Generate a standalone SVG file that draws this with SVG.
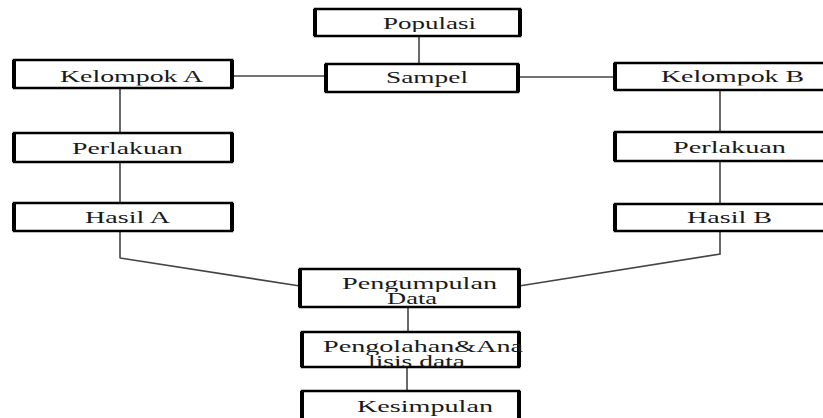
<svg xmlns="http://www.w3.org/2000/svg" width="823" height="418" viewBox="0 0 823 418">
<style>
.box rect{fill:#fff;stroke:#000;stroke-width:2.5}
.box path{stroke:#000;stroke-width:4;fill:none}
.t{font-family:"Liberation Serif","Times New Roman",serif;font-size:17px;fill:#1a1a1a}
.c{stroke:#444;stroke-width:1.6;fill:none}
</style>
<defs>
<clipPath id="cPop"><rect x="0" y="0" width="823" height="32"/></clipPath>
<clipPath id="cSam"><rect x="0" y="0" width="823" height="87"/></clipPath>
<clipPath id="cKel"><rect x="0" y="0" width="823" height="85.5"/></clipPath>
<clipPath id="cPeng"><rect x="0" y="0" width="823" height="292"/></clipPath>
<clipPath id="cOlah"><rect x="0" y="0" width="823" height="355"/></clipPath>
</defs>
<g id="connectors">
<path class="c" d="M419 36V64"/>
<path class="c" d="M232 76H326"/>
<path class="c" d="M518 77H615"/>
<path class="c" d="M120 88V133M120 162V203"/>
<path class="c" d="M120 231V258L300 286" stroke-linejoin="bevel"/>
<path class="c" d="M720 90V132M720 161V204"/>
<path class="c" d="M720 231V254L519 286"/>
<path class="c" d="M408 307V332"/>
<path class="c" d="M407 367V391"/>
</g>
<g id="populasi" class="box"><rect x="315" y="9" width="205" height="27"/><path d="M315 9V36M520 9V36"/><text class="t" x="383" y="29" textLength="93" lengthAdjust="spacingAndGlyphs" clip-path="url(#cPop)">Populasi</text></g>
<g id="sampel" class="box"><rect x="326" y="64" width="192" height="28"/><path d="M326 64V92M518 64V92"/><text class="t" x="386" y="83" textLength="82" lengthAdjust="spacingAndGlyphs" clip-path="url(#cSam)">Sampel</text></g>
<g id="kelompokA" class="box"><rect x="14" y="60" width="218" height="28"/><path d="M14 60V88M232 60V88"/><text class="t" x="60" y="82" textLength="143" lengthAdjust="spacingAndGlyphs" clip-path="url(#cKel)">Kelompok A</text></g>
<g id="kelompokB" class="box"><rect x="615" y="63" width="215" height="27"/><path d="M615 63V90"/><text class="t" x="661" y="82" textLength="143" lengthAdjust="spacingAndGlyphs" clip-path="url(#cKel)">Kelompok B</text></g>
<g id="perlakuanA" class="box"><rect x="14" y="133" width="218" height="29"/><path d="M14 133V162M232 133V162"/><text class="t" x="72" y="154" textLength="111" lengthAdjust="spacingAndGlyphs">Perlakuan</text></g>
<g id="perlakuanB" class="box"><rect x="615" y="132" width="215" height="29"/><path d="M615 132V161"/><text class="t" x="673" y="153" textLength="113" lengthAdjust="spacingAndGlyphs">Perlakuan</text></g>
<g id="hasilA" class="box"><rect x="14" y="203" width="218" height="28"/><path d="M14 203V231M232 203V231"/><text class="t" x="85" y="223" textLength="85" lengthAdjust="spacingAndGlyphs">Hasil A</text></g>
<g id="hasilB" class="box"><rect x="615" y="204" width="215" height="27"/><path d="M615 204V231"/><text class="t" x="687" y="223" textLength="85" lengthAdjust="spacingAndGlyphs">Hasil B</text></g>
<g id="pengumpulan" class="box"><rect x="300" y="269" width="219" height="38"/><path d="M300 269V307M519 269V307"/><text class="t" x="342" y="289" textLength="155" lengthAdjust="spacingAndGlyphs" clip-path="url(#cPeng)">Pengumpulan</text><text class="t" x="387" y="304" textLength="50" lengthAdjust="spacingAndGlyphs">Data</text></g>
<g id="pengolahan" class="box"><rect x="302" y="332" width="217" height="35"/><path d="M302 332V367M519 332V367"/><text class="t" x="323" y="352" textLength="200" lengthAdjust="spacingAndGlyphs" clip-path="url(#cOlah)">Pengolahan&amp;Ana</text><text class="t" x="368" y="367" textLength="97" lengthAdjust="spacingAndGlyphs">lisis data</text></g>
<g id="kesimpulan" class="box"><rect x="302" y="391" width="217" height="30"/><path d="M302 391V421M519 391V421"/><text class="t" x="357" y="412" textLength="136" lengthAdjust="spacingAndGlyphs">Kesimpulan</text></g>
</svg>
